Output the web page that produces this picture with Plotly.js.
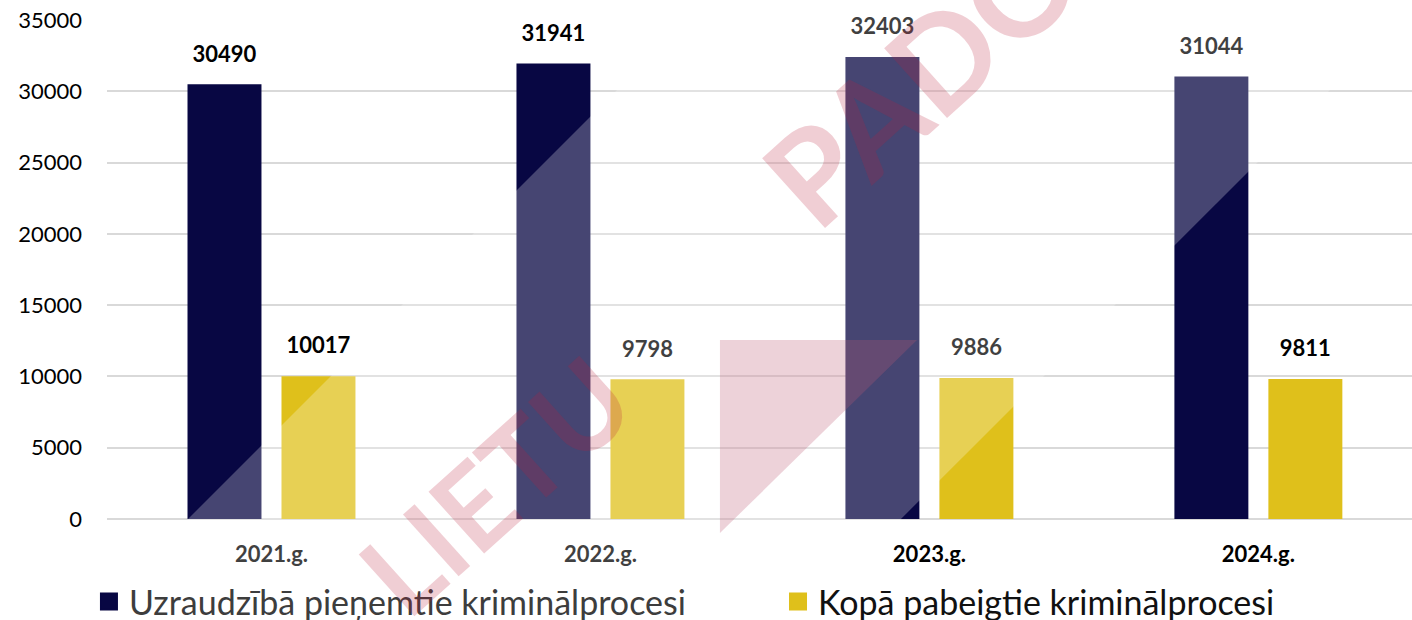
<!DOCTYPE html>
<html>
<head>
<meta charset="utf-8">
<script src="https://cdn.plot.ly/plotly-3.0.1.min.js"></script>
<style>
html,body{margin:0;padding:0;background:#ffffff;}
#chart{width:1412px;height:620px;}
</style>
</head>
<body>
<div id="chart"></div>
<script>
// ---- data ----
const categories = ['2021.g.', '2022.g.', '2023.g.', '2024.g.'];
const seriesNames = ['Uzraudzībā pieņemtie kriminālprocesi', 'Kopā pabeigtie kriminālprocesi'];
const accepted = [30490, 31941, 32403, 31044];
const completed = [10017, 9798, 9886, 9811];
const yTickVals = [0, 5000, 10000, 15000, 20000, 25000, 30000, 35000];
const yTickText = ['0', '5000', '10000', '15000', '20000', '25000', '30000', '35000'];

// ---- style ----
const NAVY = '#080743';
const YELLOW = '#dfc01b';
const FONT = 'Lato, "Open Sans", sans-serif';

function barTrace(vals, color, grp) {
  return {
    type: 'bar', x: categories, y: vals,
    marker: {color: color, line: {width: 0}},
    offsetgroup: grp, showlegend: false, hoverinfo: 'skip'
  };
}
function labelTrace(vals, grp) {
  return {
    type: 'scatter', mode: 'markers+text', x: categories, y: vals,
    text: vals.map(String), textposition: 'top center',
    textfont: {family: FONT, size: 22, color: '#000000', weight: 700},
    marker: {size: 26, color: 'rgba(0,0,0,0)'},
    offsetgroup: grp, showlegend: false, hoverinfo: 'skip', cliponaxis: false
  };
}
function legendTrace(name, color, grp, legendId) {
  return {
    type: 'scatter', mode: 'markers', x: [null], y: [null], name: name,
    marker: {symbol: 'square', size: 16, color: color, line: {width: 2, color: color}},
    offsetgroup: grp, showlegend: true, legend: legendId, hoverinfo: 'skip'
  };
}

const data = [
  barTrace(accepted, NAVY, 'a'),
  barTrace(completed, YELLOW, 'b'),
  labelTrace(accepted, 'a'),
  labelTrace(completed, 'b'),
  legendTrace(seriesNames[0], NAVY, 'a', 'legend'),
  legendTrace(seriesNames[1], YELLOW, 'b', 'legend2')
];

// pixel -> paper helpers for the decorative watermark
const PL = 107, PW = 1305, PB = 519, PH = 499;
const px = v => (v - PL) / PW;
const py = v => (PB - v) / PH;
const f = v => v.toFixed(4);

function legendBox(xFrac, color) {
  return {
    orientation: 'h',
    xref: 'container', x: xFrac, xanchor: 'left',
    yref: 'container', y: 0.029, yanchor: 'middle',
    font: {family: FONT, size: 34, color: color},
    itemwidth: 30, bgcolor: 'rgba(0,0,0,0)', borderwidth: 0
  };
}

const layout = {
  width: 1412, height: 620,
  margin: {l: 107, r: 0, t: 20, b: 101, pad: 0, autoexpand: false},
  paper_bgcolor: '#ffffff', plot_bgcolor: '#ffffff',
  font: {family: FONT, color: '#000000'},
  barmode: 'group', bargap: 0.4286, bargroupgap: 0.213,
  scattermode: 'group',
  showlegend: true,
  xaxis: {
    type: 'category', range: [-0.5, 3.467],
    showgrid: false, zeroline: false, showline: false, ticks: '',
    tickfont: {family: FONT, size: 22, color: '#000000', weight: 700},
    ticklabelstandoff: 20, fixedrange: true
  },
  yaxis: {
    range: [0, 35000], tickvals: yTickVals, ticktext: yTickText,
    showgrid: true, gridcolor: '#d9d9d9', gridwidth: 2,
    zeroline: true, zerolinecolor: '#d9d9d9', zerolinewidth: 2,
    showline: false, ticks: '',
    tickfont: {family: FONT, size: 22, color: '#000000'},
    ticklabelstandoff: 24, fixedrange: true
  },
  legend: legendBox(0.063, '#3d3d3d'),
  legend2: legendBox(0.551, '#111111'),
  shapes: [
    { // pink triangle of the watermark
      type: 'path', xref: 'paper', yref: 'paper', layer: 'above',
      path: `M${f(px(720))},${f(py(340))} L${f(px(917))},${f(py(340))} L${f(px(720))},${f(py(533))} Z`,
      fillcolor: 'rgba(165,35,70,0.27)', line: {width: 0}
    },
    { // light diagonal band of the watermark
      type: 'path', xref: 'paper', yref: 'paper', layer: 'above',
      path: `M${f(px(87))},${f(py(620))} L${f(px(707))},${f(py(0))} L${f(px(1420))},${f(py(0))} L${f(px(800))},${f(py(620))} Z`,
      fillcolor: 'rgba(255,255,255,0.25)', line: {width: 0}
    }
  ],
  annotations: [
    {
      text: 'PADOMES', xref: 'paper', yref: 'paper', x: px(1020), y: py(-15),
      xanchor: 'center', yanchor: 'middle',
      showarrow: false, textangle: -42,
      font: {family: FONT, size: 130, color: 'rgba(185,30,60,0.22)', weight: 700}
    },
    {
      text: 'LIETU', xref: 'paper', yref: 'paper', x: px(494), y: py(484),
      xanchor: 'center', yanchor: 'middle',
      showarrow: false, textangle: -42,
      font: {family: FONT, size: 115, color: 'rgba(185,30,60,0.22)', weight: 700}
    }
  ]
};

Plotly.newPlot('chart', data, layout, {displayModeBar: false, staticPlot: true});
</script>
</body>
</html>
